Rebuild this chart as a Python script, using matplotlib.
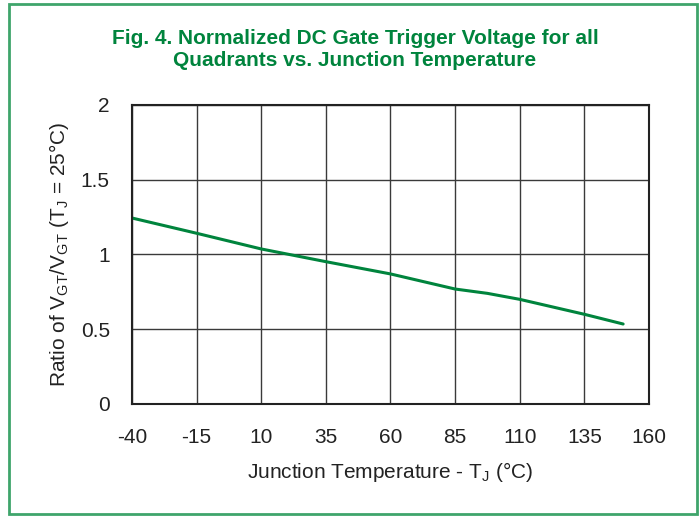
import matplotlib
matplotlib.use("Agg")
import matplotlib.pyplot as plt
from matplotlib import font_manager
from matplotlib.patches import Rectangle

# pick a narrow font if there is one
names = set(f.name for f in font_manager.fontManager.ttflist)
fam = 'Liberation Sans Narrow' if 'Liberation Sans Narrow' in names else 'Liberation Sans'
plt.rcParams['font.family'] = [fam, 'DejaVu Sans']
plt.rcParams['mathtext.fontset'] = 'custom'
plt.rcParams['mathtext.rm'] = fam
plt.rcParams['axes.unicode_minus'] = False

# data
temp = [-40, -15, 10, 35, 60, 85, 97.5, 110, 135, 150]
ratio = [1.244, 1.142, 1.037, 0.952, 0.87, 0.769, 0.74, 0.70, 0.60, 0.535]

xticks = [-40, -15, 10, 35, 60, 85, 110, 135, 160]
yticks = [0, 0.5, 1, 1.5, 2]
yticklabels = ['0', '0.5', '1', '1.5', '2']

green = '#00843d'

fig = plt.figure(figsize=(7, 5.18), dpi=100)
ax = fig.add_axes([0.1886, 0.2201, 0.7385, 0.5772])

ax.plot(temp, ratio, color=green, lw=2.2, solid_capstyle='round')
ax.set_xlim(-40, 160)
ax.set_ylim(0, 2)
ax.set_xticks(xticks)
ax.set_yticks(yticks)
ax.set_yticklabels(yticklabels)
ax.grid(True, color='#3a3a3a', lw=1.0)
ax.tick_params(length=0, labelsize=15, pad=16, colors='#222222')
ax.tick_params(axis='x', pad=17)
for s in ax.spines.values():
    s.set_linewidth(1.5)
    s.set_color('#222222')

ax.set_xlabel('Junction Temperature - T$_\\mathregular{J}$ (\u00b0C)', fontsize=15,
              color='#222222', labelpad=10)
ax.set_ylabel('Ratio of V$_\\mathregular{GT}$/V$_\\mathregular{GT}$ (T$_\\mathregular{J}$ = 25\u00b0C)',
              fontsize=15, color='#222222', labelpad=7)

fig.text(0.507, 0.905, 'Fig. 4. Normalized DC Gate Trigger Voltage for all\nQuadrants vs. Junction Temperature',
         ha='center', va='center', fontsize=15, fontweight='bold', color=green,
         linespacing=1.2)

# green frame round the figure
fig.patches.append(Rectangle((9 / 700, 4 / 518), 688 / 700, 510 / 518, transform=fig.transFigure,
                             fill=False, ec='#3fa56b', lw=2))

fig.savefig('out.png', dpi=100)
